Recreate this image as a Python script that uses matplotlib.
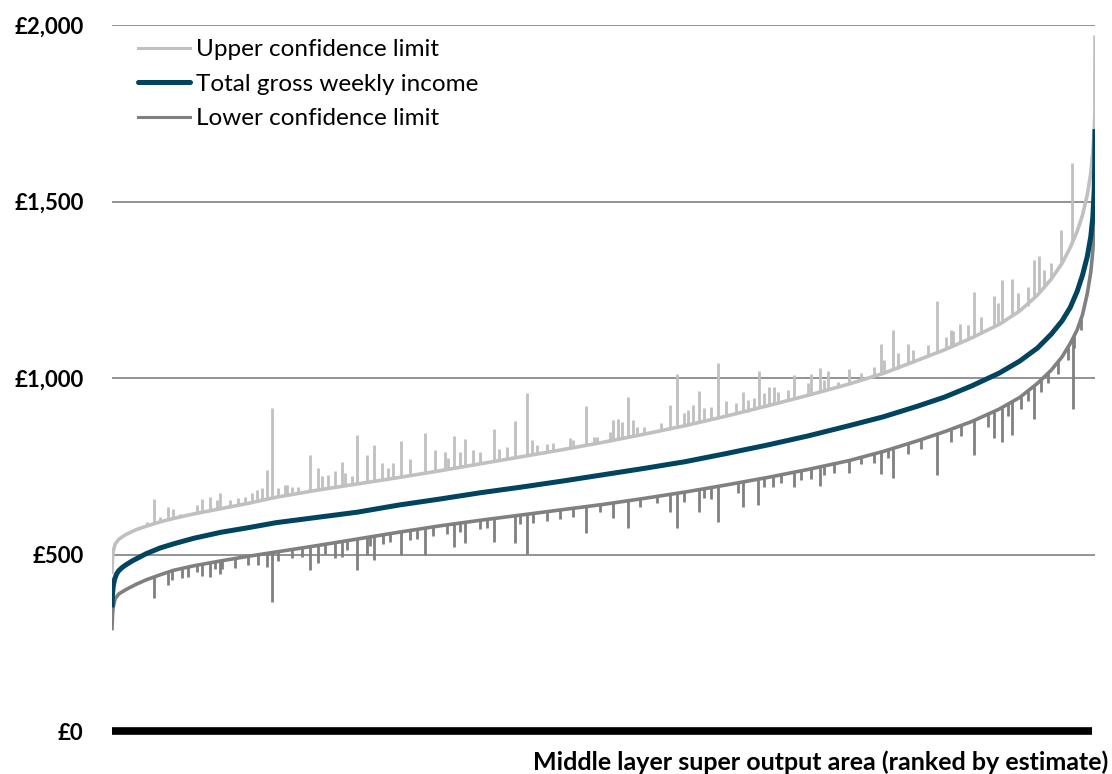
import matplotlib
matplotlib.use("Agg")
import matplotlib.pyplot as plt
from matplotlib.lines import Line2D

plt.rcParams['font.family'] = ['Lato', 'DejaVu Sans']

# Ranked MSOA estimates of total gross weekly income (£), with confidence limits
main_rank = [1, 3, 5, 10, 20, 35, 50, 75, 100, 150, 200, 250, 350, 450, 600, 800, 1000,
             1200, 1500, 1800, 2100, 2400, 2700, 3000, 3300, 3600, 3900, 4200, 4500,
             4800, 5100, 5400, 5650, 5900, 6100, 6300, 6500, 6650, 6780, 6880, 6960,
             7020, 7070, 7110, 7145, 7170, 7185, 7195, 7199, 7201]
main_val = [350, 375, 390, 410, 430, 445, 454, 463, 470, 482, 492, 502, 518, 530, 546, 563, 576,
            590, 605, 620, 640, 657, 675, 691, 708, 726, 744, 763, 786,
            810, 836, 865, 890, 920, 946, 978, 1014, 1048, 1085, 1124, 1162,
            1200, 1245, 1292, 1345, 1400, 1455, 1530, 1600, 1705]

upper_rank = [1, 5, 10, 25, 50, 100, 175, 250, 350, 450, 600, 800, 1000, 1200, 1500,
              1800, 2100, 2400, 2700, 3000, 3300, 3600, 3900, 4200, 4500, 4800, 5100,
              5400, 5650, 5900, 6100, 6300, 6500, 6650, 6780, 6880, 6960, 7020, 7070,
              7110, 7145, 7170, 7185, 7195, 7200, 7201]
upper_val = [450, 490, 510, 530, 543, 556, 570, 580, 592, 602, 615, 630, 645, 662, 682,
             700, 718, 737, 757, 777, 797, 818, 841, 865, 892, 921, 951,
             983, 1013, 1050, 1080, 1114, 1152, 1190, 1235, 1280, 1325, 1370, 1415,
             1462, 1520, 1580, 1640, 1700, 1750, 1965]

lower_rank = [1, 5, 10, 25, 50, 100, 175, 250, 350, 450, 600, 800, 1000, 1200, 1500,
              1800, 2100, 2400, 2700, 3000, 3300, 3600, 3900, 4200, 4500, 4800, 5100,
              5400, 5650, 5900, 6100, 6300, 6500, 6650, 6780, 6880, 6960, 7020, 7070,
              7110, 7145, 7170, 7185, 7195, 7201]
lower_val = [290, 330, 352, 375, 388, 400, 415, 428, 442, 455, 468, 482, 495, 507, 525,
             544, 563, 581, 597, 612, 627, 642, 659, 677, 697, 718, 741,
             766, 792, 822, 848, 877, 912, 945, 985, 1022, 1060, 1098, 1136,
             1180, 1240, 1300, 1360, 1420, 1460]

# Areas with wide intervals: rank, value on the limit line, extreme value
upper_spike_rank = [309, 412, 448, 661, 720, 793, 1101, 1137, 1174, 1218, 1284, 1453,
                    1511, 1541, 1636, 1687, 1797, 1871, 1922, 1981, 2061, 2120, 2186,
                    2296, 2369, 2443, 2509, 2589, 2648, 2802, 2839, 2956, 3044, 3080,
                    3359, 3476, 3674, 3704, 3777, 3814, 4085, 4136, 4254, 4298, 4437,
                    4495, 4620, 4737, 4811, 4847, 4994, 5119, 5185, 5243, 5397, 5632,
                    5720, 5830, 6043, 6160, 6211, 6314, 6460, 6519, 6593, 6754, 6790,
                    6952, 7032]
upper_spike_base = [587, 598, 602, 620, 624, 630, 654, 657, 660, 663, 668, 679,
                    683, 685, 690, 693, 700, 704, 707, 711, 716, 719, 723,
                    730, 735, 740, 744, 750, 754, 764, 766, 774, 780, 782,
                    801, 809, 824, 826, 832, 834, 856, 860, 870, 874, 886,
                    892, 904, 915, 922, 926, 940, 953, 960, 966, 983, 1011,
                    1023, 1040, 1071, 1090, 1099, 1117, 1144, 1157, 1176, 1226, 1240,
                    1320, 1381]
upper_spike_peak = [657, 635, 630, 657, 663, 674, 688, 739, 915, 688, 697, 782,
                    745, 722, 737, 762, 839, 782, 810, 760, 760, 822, 770,
                    844, 795, 790, 836, 826, 796, 855, 799, 878, 957, 825,
                    830, 921, 881, 885, 946, 882, 923, 1011, 923, 963, 1042,
                    935, 960, 1020, 975, 975, 1008, 1010, 1028, 1020, 1025, 1096,
                    1136, 1096, 1218, 1133, 1152, 1243, 1232, 1277, 1280, 1334, 1346,
                    1420, 1609]

# Smaller excursions above the upper limit line
upper_bump_rank = [258, 353, 500, 624, 771, 866, 925, 976, 1028, 1064, 1270, 1321,
                   1365, 1585, 1709, 1761, 2025, 2465, 2553, 2700, 2897, 3117, 3190,
                   3234, 3381, 3528, 3557, 3652, 3740, 3850, 3894, 4019, 4188, 4217,
                   4334, 4385, 4569, 4657, 4701, 4774, 4877, 4950, 5097, 5214, 5317,
                   5485, 5581, 5654, 5757, 5867, 5977, 6109, 6145, 6270, 6365, 6490,
                   6637, 6710, 6827, 6878]
upper_bump_base = [581, 593, 606, 617, 628, 636, 641, 646, 650, 652, 668, 671,
                   673, 687, 695, 698, 713, 741, 747, 757, 770, 785, 789,
                   793, 803, 812, 814, 822, 829, 837, 840, 850, 864, 866,
                   877, 881, 897, 905, 910, 917, 927, 934, 951, 963, 974,
                   992, 1005, 1013, 1026, 1043, 1061, 1081, 1087, 1108, 1125, 1149,
                   1187, 1205, 1256, 1279]
upper_bump_peak = [592, 606, 614, 640, 654, 654, 660, 663, 674, 683, 697, 691,
                   691, 725, 731, 722, 745, 773, 790, 790, 805, 810, 813,
                   816, 824, 833, 833, 847, 875, 861, 861, 872, 901, 909,
                   915, 918, 929, 938, 943, 958, 960, 966, 986, 994, 989,
                   1014, 1031, 1051, 1071, 1079, 1093, 1116, 1136, 1150, 1173, 1212,
                   1241, 1258, 1306, 1326]

lower_spike_rank = [309, 412, 624, 720, 793, 1137, 1174, 1453, 1511, 1636, 1687, 1797,
                    1871, 1922, 2120, 2296, 2509, 2589, 2802, 2956, 3044, 3476, 3674,
                    3777, 4085, 4136, 4298, 4437, 4620, 4730, 4994, 5185, 5397, 5632,
                    5720, 6043, 6314, 6460, 6519, 6593, 6754, 7040]
lower_spike_base = [436, 450, 470, 478, 482, 503, 505, 522, 526, 534, 537, 544,
                    548, 552, 564, 575, 587, 591, 602, 610, 614, 636, 646,
                    652, 670, 672, 684, 693, 705, 712, 733, 748, 766, 790,
                    800, 841, 879, 905, 915, 933, 977, 1113]
lower_spike_low = [377, 414, 450, 436, 445, 465, 366, 456, 475, 490, 494, 456,
                   499, 484, 499, 499, 521, 532, 535, 532, 501, 561, 603,
                   575, 620, 575, 620, 592, 635, 640, 691, 695, 731, 728,
                   717, 725, 782, 830, 819, 839, 884, 912]

# Smaller excursions below the lower limit line
lower_bump_rank = [441, 514, 558, 661, 756, 808, 903, 998, 1072, 1218, 1321, 1394,
                   1563, 1724, 1893, 1988, 2039, 2186, 2237, 2355, 2457, 2553, 2700,
                   2750, 2993, 3088, 3190, 3286, 3381, 3579, 3872, 3996, 4188, 4334,
                   4385, 4583, 4774, 4840, 4899, 5045, 5119, 5214, 5287, 5485, 5581,
                   5684, 5829, 5925, 6145, 6218, 6416, 6563, 6658, 6710, 6805, 6856,
                   6929, 7003, 7047, 7098]
lower_bump_base = [454, 460, 464, 473, 479, 483, 489, 495, 499, 508, 514, 518,
                   529, 539, 550, 556, 559, 568, 571, 578, 584, 589, 597,
                   600, 612, 616, 621, 626, 631, 641, 657, 665, 676, 685,
                   689, 703, 716, 721, 726, 737, 742, 750, 756, 775, 785,
                   796, 813, 825, 854, 865, 897, 926, 947, 964, 994, 1013,
                   1045, 1087, 1119, 1167]
lower_bump_low = [428, 433, 436, 440, 458, 460, 463, 470, 470, 483, 490, 494,
                  502, 513, 525, 530, 534, 540, 545, 552, 558, 563, 571,
                  575, 586, 590, 595, 600, 605, 620, 635, 646, 650, 660,
                  656, 673, 692, 690, 703, 710, 715, 725, 730, 755, 760,
                  772, 786, 798, 818, 835, 862, 891, 912, 935, 960, 985,
                  1012, 1052, 1085, 1135]

y_ticks = [0, 500, 1000, 1500, 2000]
y_tick_labels = ['£0', '£500', '£1,000', '£1,500', '£2,000']
series_labels = ['Upper confidence limit', 'Total gross weekly income', 'Lower confidence limit']
x_title = 'Middle layer super output area (ranked by estimate)'

c_upper = '#c0c0c0'
c_main = '#00445f'
c_lower = '#808080'

fig = plt.figure(figsize=(11.12, 7.74), dpi=100)
ax = fig.add_axes([112 / 1112, 43 / 774, (1095 - 112) / 1112, (749 - 43) / 774])

for y in y_ticks[1:]:
    ax.axhline(y, color='#8a8a8a', lw=1.3, zorder=0)

ax.plot(upper_rank, upper_val, color=c_upper, lw=2.6, zorder=2)
ax.vlines(upper_spike_rank, upper_spike_base, upper_spike_peak, color=c_upper, lw=2.0, zorder=2)
ax.vlines(upper_bump_rank, upper_bump_base, upper_bump_peak, color=c_upper, lw=2.0, zorder=2)
ax.plot(lower_rank, lower_val, color=c_lower, lw=2.6, zorder=2)
ax.vlines(lower_spike_rank, lower_spike_low, lower_spike_base, color=c_lower, lw=2.0, zorder=2)
ax.vlines(lower_bump_rank, lower_bump_low, lower_bump_base, color=c_lower, lw=2.0, zorder=2)
ax.plot(main_rank, main_val, color=c_main, lw=3.6, zorder=3, solid_capstyle='butt')

ax.plot([main_rank[0], main_rank[-1] - 20], [0, 0], color='black', lw=5.5,
        solid_capstyle='butt', zorder=3, clip_on=False)

ax.set_xlim(main_rank[0], main_rank[-1])
ax.set_ylim(0, 2000)
ax.set_xticks([])
ax.set_yticks(y_ticks)
ax.set_yticklabels(y_tick_labels, fontweight='bold', fontsize=16)
ax.tick_params(axis='y', length=0, pad=20.5)
for s in ax.spines.values():
    s.set_visible(False)

handles = [Line2D([], [], color=c_upper, lw=2.2),
           Line2D([], [], color=c_main, lw=3.6, solid_capstyle='round'),
           Line2D([], [], color=c_lower, lw=2.2)]
fig.legend(handles, series_labels, loc='upper left',
           bbox_to_anchor=(138 / 1112, 1 - 39 / 774), frameon=False,
           fontsize=17.5, handlelength=2.14, handletextpad=0.25, labelspacing=0.56,
           borderpad=0, borderaxespad=0)

fig.text(1108 / 1112, 1 - 762 / 774, x_title, ha='right', va='center',
         fontweight='bold', fontsize=18)

fig.savefig('out.png', dpi=100)
